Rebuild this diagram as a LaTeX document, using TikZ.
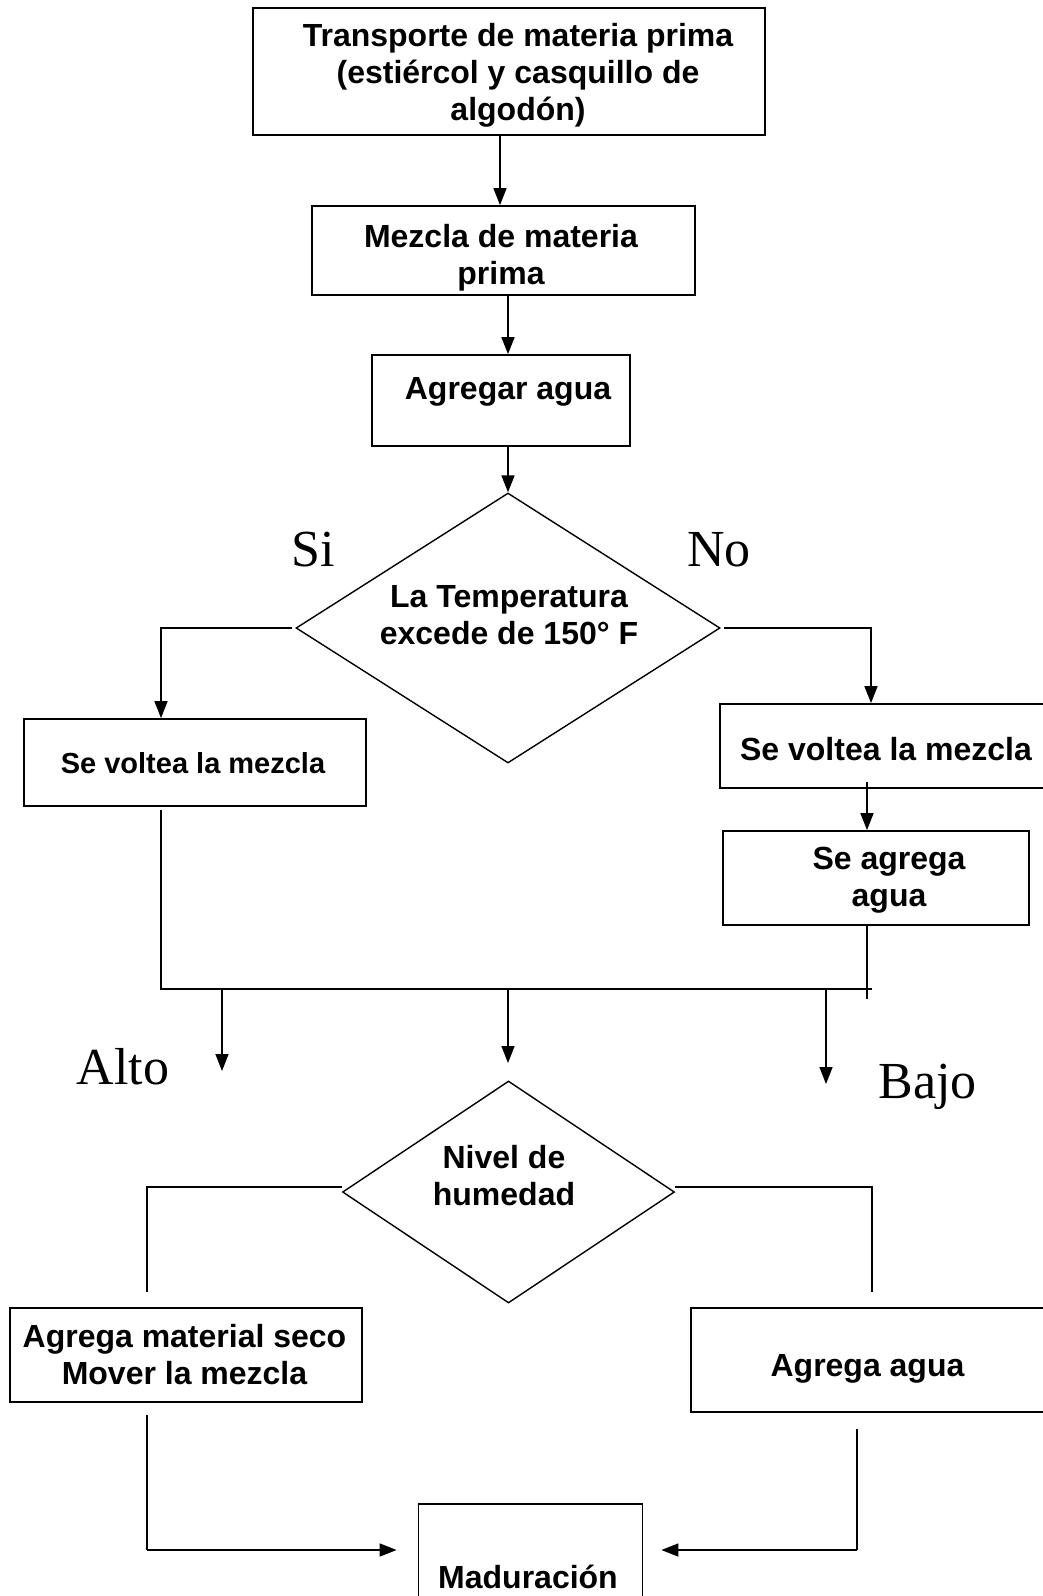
\documentclass[tikz,border=0pt]{standalone}
\usepackage{fontspec}
\setmainfont{Liberation Sans}
\newfontfamily\tnr{Liberation Serif}
\usetikzlibrary{arrows.meta,shapes.geometric,calc}
\begin{document}
\begin{tikzpicture}[x=1pt,y=-1pt,
  box/.style={draw,rectangle,line width=1.8pt,inner sep=0pt},
  dia/.style={draw,diamond,line width=1.4pt,inner sep=0pt},
  txt/.style={font=\bfseries\fontsize{32}{37}\selectfont,align=center,inner sep=0pt},
  stxt/.style={font=\bfseries\fontsize{29}{35}\selectfont,align=center,inner sep=0pt},
  lbl/.style={font=\tnr\fontsize{52}{56}\selectfont,inner sep=0pt,anchor=base},
  ln/.style={line width=1.6pt},
  arr/.style={line width=1.6pt,-{Triangle[length=17pt,width=13pt]}}]
\useasboundingbox (0,0) rectangle (1043,1596);
\fill[white] (0,0) rectangle (1043,1596);

% boxes
\node[box,minimum width=512pt,minimum height=127pt] (t1) at (509,71.5) {};
\node[txt] (t1t) at (518,75) {Transporte de materia prima\\ (estiércol y casquillo de\\ algodón)};
\node[box,minimum width=383pt,minimum height=89pt] (t2) at (503.5,250.5) {};
\node[txt] (t2t) at (501,258) {Mezcla de materia\\ prima};
\node[box,minimum width=258pt,minimum height=91pt] (t3) at (501,400.5) {};
\node[txt] (t3t) at (508,392) {Agregar agua};
\node[dia,minimum width=424pt,minimum height=270pt] (d1) at (508,628) {};
\node[txt] (d1t) at (509,615.5) {La Temperatura\\ excede de 150° F};
\node[box,minimum width=342pt,minimum height=87pt] (sl) at (195,762.5) {};
\node[stxt] (slt) at (193,763) {Se voltea la mezcla};
\node[box,minimum width=330pt,minimum height=84pt] (sr) at (885,746) {};
\node[txt] (srt) at (886,749) {Se voltea la mezcla};
\node[box,minimum width=306pt,minimum height=94pt] (sa) at (876,878) {};
\node[txt] (sat) at (889,880) {Se agrega\\ agua};
\node[dia,minimum width=332pt,minimum height=222pt] (d2) at (508.5,1192) {};
\node[txt] (d2t) at (504,1175.5) {Nivel de\\ humedad};
\node[box,minimum width=352pt,minimum height=94pt] (bl) at (186,1355) {};
\node[txt] (blt) at (184.5,1355) {Agrega material seco\\ Mover la mezcla};
\node[box,minimum width=359pt,minimum height=104pt] (br) at (870.5,1360) {};
\node[txt] (brt) at (867.5,1369) {Agrega agua};
\node[box,minimum width=224pt,minimum height=104pt] (mad) at (530.5,1556) {};
\node[txt] (madt) at (528,1577) {Maduración};

% labels
\node[lbl] (si) at (313,566) {Si};
\node[lbl] (no) at (719,566) {No};
\node[lbl] (alto) at (123,1084) {Alto};
\node[lbl] (bajo) at (927.5,1098) {Bajo};

% helper coordinates
\coordinate (xa) at (500,0);
\coordinate (xb) at (508,0);
\coordinate (xl) at (161,0);
\coordinate (xr) at (871,0);
\coordinate (xs) at (867,0);
\coordinate (jl) at (161,989);
\coordinate (jr) at (872,989);
\coordinate (ea) at (222,1071);
\coordinate (eb) at (508,1063);
\coordinate (ec) at (826,1084);
\coordinate (ex) at (867,999);
\coordinate (ql) at (147,0);
\coordinate (qr) at (872,0);
\coordinate (dl) at (147,1292);
\coordinate (dr) at (872,1292);
\coordinate (bl2) at (147,1550);
\coordinate (br2) at (857,1550);
\coordinate (xq) at (857,0);

% connectors
\draw[arr] (t1.south -| xa) -- (t2.north -| xa);
\draw[arr] (t2.south -| xb) -- (t3.north -| xb);
\draw[arr] (t3.south -| xb) -- (d1.north);
\draw[arr] ($(d1.west)+(-3,0)$) -| (sl.north -| xl);
\draw[arr] ($(d1.east)+(3,0)$) -| (sr.north -| xr);
\draw[arr] ($(sr.south -| xs)+(0,-7)$) -- (sa.north -| xs);
\draw[ln] ($(sl.south -| xl)+(0,3)$) -- (jl) -- (jr);
\draw[ln] (sa.south -| xs) -- (ex);
\draw[arr] (jl -| ea) -- (ea);
\draw[arr] (jl -| eb) -- (eb);
\draw[arr] (jl -| ec) -- (ec);
\draw[ln] ($(d2.west)+(0,-5)$) -| (dl);
\draw[ln] ($(d2.east)+(0,-5)$) -| (dr);
\draw[ln] ($(bl.south -| ql)+(0,12)$) -- (bl2);
\draw[arr,shorten >=21pt] (bl2) -- (mad.west |- bl2);
\draw[ln] ($(br.south -| xq)+(0,16)$) -- (br2);
\draw[arr,shorten >=18pt] (br2) -- (mad.east |- br2);
\end{tikzpicture}
\end{document}
